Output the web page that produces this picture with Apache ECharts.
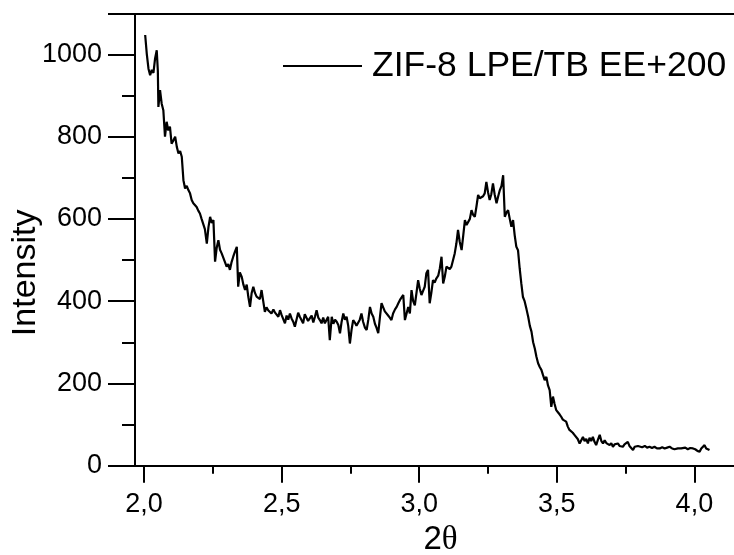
<!DOCTYPE html>
<html>
<head>
<meta charset="utf-8">
<script src="https://cdn.jsdelivr.net/npm/echarts@6/dist/echarts.min.js"></script>
<style>html,body{margin:0;padding:0;background:#fff}#c{width:734px;height:555px}</style>
</head>
<body>
<div id="c"></div>
<script>
var seriesName = 'ZIF-8 LPE/TB EE+200';
var xMajorTicks = [2.0, 2.5, 3.0, 3.5, 4.0];
var xMinorTicks = [2.25, 2.75, 3.25, 3.75];
var twoTheta = [
2.004,2.010,2.016,2.022,2.028,2.034,2.040,2.046,2.050,2.052,2.058,2.064,2.070,2.076,2.082,2.088,2.094,2.100,2.106,2.113,
2.119,2.125,2.131,2.137,2.143,2.149,2.155,2.161,2.167,2.173,2.179,2.185,2.191,2.197,2.203,2.209,2.215,2.221,2.228,2.234,
2.240,2.246,2.252,2.258,2.264,2.270,2.276,2.282,2.288,2.294,2.300,2.306,2.312,2.318,2.324,2.330,2.337,2.342,2.348,2.355,
2.361,2.367,2.373,2.379,2.385,2.391,2.397,2.403,2.409,2.415,2.421,2.427,2.433,2.439,2.445,2.451,2.457,2.463,2.470,2.476,
2.482,2.488,2.494,2.500,2.506,2.512,2.518,2.524,2.530,2.536,2.542,2.548,2.554,2.560,2.566,2.572,2.578,2.584,2.590,2.596,
2.603,2.609,2.615,2.621,2.627,2.633,2.639,2.645,2.651,2.657,2.663,2.669,2.675,2.682,2.688,2.694,2.700,2.706,2.712,2.718,
2.724,2.730,2.736,2.742,2.748,2.754,2.760,2.766,2.772,2.778,2.784,2.790,2.796,2.803,2.809,2.815,2.821,2.827,2.833,2.839,
2.845,2.851,2.857,2.863,2.869,2.875,2.881,2.887,2.893,2.899,2.905,2.912,2.918,2.924,2.930,2.936,2.942,2.948,2.954,2.960,
2.966,2.972,2.978,2.984,2.990,2.996,3.002,3.008,3.014,3.020,3.026,3.032,3.038,3.044,3.050,3.056,3.062,3.069,3.075,3.081,
3.087,3.093,3.099,3.105,3.111,3.117,3.123,3.129,3.135,3.141,3.147,3.154,3.160,3.166,3.172,3.178,3.184,3.190,3.196,3.202,
3.208,3.214,3.220,3.226,3.232,3.238,3.244,3.250,3.256,3.262,3.268,3.274,3.281,3.287,3.293,3.299,3.305,3.311,3.317,3.323,
3.329,3.335,3.341,3.347,3.353,3.359,3.365,3.371,3.377,3.383,3.390,3.396,3.402,3.408,3.414,3.420,3.426,3.432,3.438,3.444,
3.450,3.456,3.462,3.468,3.474,3.480,3.486,3.492,3.498,3.504,3.510,3.516,3.522,3.528,3.534,3.540,3.546,3.552,3.558,3.564,
3.570,3.576,3.583,3.589,3.595,3.601,3.607,3.613,3.619,3.625,3.631,3.637,3.643,3.649,3.656,3.662,3.668,3.674,3.680,3.686,
3.692,3.698,3.704,3.710,3.716,3.722,3.728,3.734,3.740,3.746,3.752,3.758,3.764,3.770,3.777,3.783,3.789,3.795,3.801,3.810,
3.820,3.828,3.837,3.846,3.855,3.864,3.874,3.883,3.892,3.901,3.910,3.919,3.928,3.934,3.940,3.946,3.952,3.958,3.967,3.976,
3.985,3.995,4.003,4.011,4.019,4.025,4.031,4.037,4.043,4.049,4.055
];
var intensity = [
1047,1000,965,949,962,955,990,1010,960,872,913,880,864,800,836,815,824,783,790,800,
775,759,765,751,694,674,680,670,662,646,638,640,629,620,613,600,597,575,540,580,
605,590,597,496,530,548,525,516,520,495,484,490,476,495,508,520,532,435,470,459,
440,427,440,410,386,420,435,420,411,415,405,427,400,374,385,378,382,370,380,372,
374,362,378,366,370,346,365,355,370,358,350,338,355,372,362,366,346,368,370,352,
354,365,348,362,378,360,354,346,360,346,350,362,305,362,345,355,350,342,322,350,
370,355,362,340,297,330,354,348,340,338,355,370,350,335,330,355,386,370,362,345,
335,322,360,395,385,375,378,365,360,354,370,380,386,395,403,400,415,354,370,386,
370,427,400,390,420,451,430,415,425,435,468,476,395,420,451,445,455,462,480,508,
443,460,484,484,478,484,500,516,540,573,545,524,560,597,585,581,600,621,610,605,
630,658,650,646,655,662,690,665,646,660,686,660,638,655,670,680,706,605,615,621,
600,581,597,560,532,524,480,443,410,400,380,362,340,326,300,285,265,249,240,233,
220,208,216,195,184,143,168,150,135,130,125,119,112,110,107,95,87,85,80,75,
72,65,54,62,70,60,65,54,68,60,70,58,50,62,75,60,54,62,55,58,
50,55,46,52,50,54,48,50,46,52,55,58,48,44,38,46,44,48,50,45,
48,44,46,43,46,42,42,45,42,44,46,42,40,38,42,45,42,46,44,40,
43,42,40,36,34,42,46,50,42,40,38
];

var data = twoTheta.map(function (x, i) { return [x, intensity[i]]; });
var FONT = '"Liberation Sans", Arial, sans-serif';
var chart = echarts.init(document.getElementById('c'));
chart.setOption({
  animation: false,
  backgroundColor: '#fff',
  grid: { left: 135, right: 0, top: 14, bottom: 89.3, containLabel: false, outerBoundsMode: 'none' },
  legend: {
    left: 278, top: 43,
    icon: 'rect', itemWidth: 79, itemHeight: 2,
    itemStyle: { color: '#000' },
    textStyle: { fontFamily: FONT, fontSize: 35.5, color: '#000', padding: [0, 0, 0, 5] },
    data: [seriesName]
  },
  xAxis: [
    {
      type: 'value', position: 'bottom', min: 1.967, max: 4.144,
      name: '{a|2}{b|θ}', nameLocation: 'middle', nameGap: 58, nameMoveOverlap: false,
      nameTextStyle: { padding: [0, 0, 0, 12], rich: {
        a: { fontFamily: FONT, fontSize: 33, color: '#000' },
        b: { fontFamily: '"Liberation Serif", "DejaVu Serif", serif', fontSize: 33, color: '#000' }
      } },
      axisLine: { show: true, onZero: false, lineStyle: { color: '#000', width: 2 } },
      axisTick: { show: true, inside: false, length: 17, customValues: xMajorTicks, lineStyle: { color: '#000', width: 2 } },
      axisLabel: { show: true, margin: 25, customValues: xMajorTicks, fontFamily: FONT, fontSize: 27, color: '#000',
        formatter: function (v) { return v.toFixed(1).replace('.', ','); } },
      splitLine: { show: false }
    },
    {
      type: 'value', position: 'bottom', min: 1.967, max: 4.144,
      axisLine: { show: false, onZero: false },
      axisTick: { show: true, inside: false, length: 8, customValues: xMinorTicks, lineStyle: { color: '#000', width: 2 } },
      axisLabel: { show: false },
      splitLine: { show: false }
    },
    {
      type: 'value', position: 'top', min: 1.967, max: 4.144,
      axisLine: { show: true, onZero: false, lineStyle: { color: '#000', width: 2 } },
      axisTick: { show: false }, axisLabel: { show: false }, splitLine: { show: false }
    }
  ],
  yAxis: {
    type: 'value', min: 0, max: 1098, interval: 200,
    name: 'Intensity', nameLocation: 'middle', nameGap: 92, nameRotate: 90, nameMoveOverlap: false,
    nameTextStyle: { fontFamily: FONT, fontSize: 34, color: '#000', padding: [0, 66, 0, 0] },
    axisLine: { show: true, onZero: false, lineStyle: { color: '#000', width: 2 } },
    axisTick: { show: true, inside: false, length: 27, lineStyle: { color: '#000', width: 2 } },
    minorTick: { show: true, splitNumber: 2, length: 13, lineStyle: { color: '#000', width: 2 } },
    axisLabel: { margin: 33, fontFamily: FONT, fontSize: 27, color: '#000', showMaxLabel: false,
      formatter: function (v) { return String(v); } },
    splitLine: { show: false }, minorSplitLine: { show: false }
  },
  series: [{
    name: seriesName, type: 'line', xAxisIndex: 0, data: data,
    showSymbol: false, symbol: 'none',
    lineStyle: { color: '#000', width: 2.2 },
    itemStyle: { color: '#000' }
  }]
});
</script>
</body>
</html>
